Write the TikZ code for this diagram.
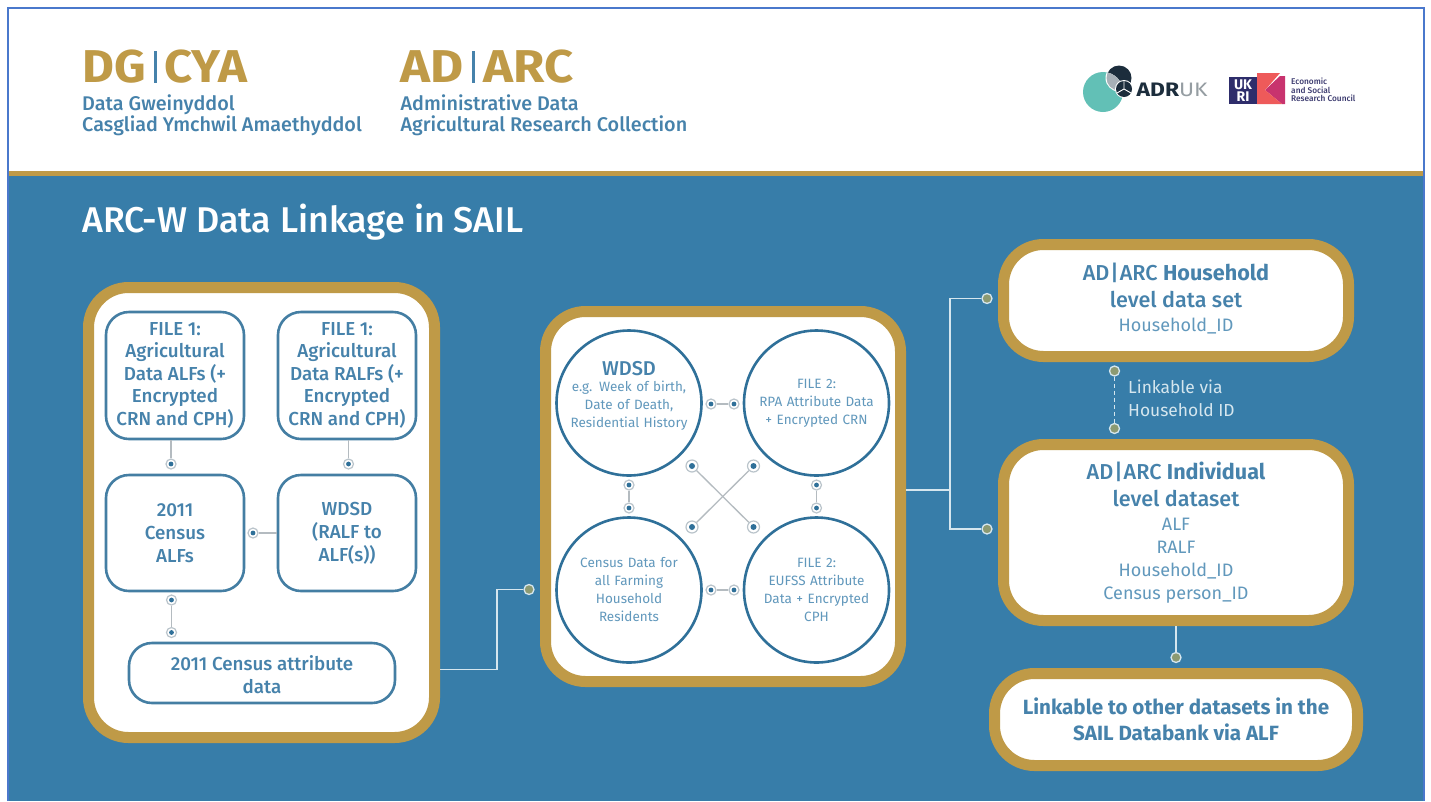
\documentclass[tikz,border=0pt]{standalone}
\usepackage{fontspec}
\setmainfont{Fira Sans}[BoldFont={Fira Sans Medium}]
\newfontfamily\heavy{Fira Sans Bold}
\definecolor{bgblue}{HTML}{377DA9}
\definecolor{gold}{HTML}{BF9A47}
\definecolor{frameblue}{HTML}{4A78CC}
\definecolor{txtblue}{HTML}{4682AB}
\definecolor{lightblue}{HTML}{6198BC}
\definecolor{ringgray}{HTML}{BAC4CB}
\definecolor{wireg}{HTML}{B4BBC0}
\definecolor{dotblue}{HTML}{2F7099}
\definecolor{olive}{HTML}{8C9A72}
\definecolor{palel}{HTML}{D5E6EE}
\definecolor{teal}{HTML}{62C0B6}
\definecolor{adrdark}{HTML}{1C2D3C}
\definecolor{ukriblue}{HTML}{2E2D6B}
\definecolor{ukrired}{HTML}{EE5A5A}
\definecolor{ukripink}{HTML}{C8336E}
\newcommand{\fs}[2]{\fontsize{#1}{#2}\selectfont}
\newcommand{\pipebar}{\textcolor{txtblue}{\rule[-0.01em]{2.5pt}{0.7em}}}
\newcommand{\idline}[1]{{\fs{18}{23}\mdseries\color{lightblue}#1}}
\tikzset{
  outerbox/.style={draw=gold,line width=11pt,fill=white,rounded corners=40pt,inner sep=0pt},
  innerbox/.style={draw=dotblue!90,line width=2.6pt,fill=white,rounded corners=23pt,inner sep=0pt,align=center,text=txtblue,font=\fs{18.8}{22.8}\bfseries},
  circbox/.style={circle,draw=dotblue,line width=2.6pt,fill=white,minimum size=145pt,inner sep=0pt,align=center,text=lightblue,font=\fs{13.5}{18},text width=125pt},
  circtxt/.style={inner sep=0pt,align=center,text=lightblue,font=\fs{13.5}{18},text width=125pt},
  dotw/.style={circle,draw=ringgray,line width=1.2pt,fill=white,minimum size=10pt,inner sep=0pt,path picture={\fill[dotblue] (path picture bounding box.center) circle (2.4pt);}},
  dotx/.style={dotw,minimum size=12pt,path picture={\fill[dotblue] (path picture bounding box.center) circle (3pt);}},
  dotb/.style={circle,draw=palel,line width=1.3pt,fill=olive,minimum size=10pt,inner sep=0pt},
  wire/.style={draw=wireg,line width=1.3pt},
  wirel/.style={draw=palel,line width=1.3pt},
  head/.style={anchor=west,inner sep=0pt,text=txtblue,font=\fs{19.8}{21}\bfseries,align=left},
  bigtxt/.style={anchor=west,inner sep=0pt,font=\fs{46}{46}\heavy},
  boxtxt/.style={inner sep=0pt,align=center,text=txtblue,font=\fs{21.6}{27}\bfseries},
}
\begin{document}
\begin{tikzpicture}[x=1pt,y=-1pt]
\useasboundingbox (0,0) rectangle (1431,801);
% background
\fill[white] (0,0) rectangle (1431,801);
\fill[bgblue] (8,175) rectangle (1424,801);
\fill[gold] (8,171) rectangle (1424,175.5);
\draw[frameblue,line width=1.8pt] (8,801) -- (8,8) -- (1424,8) -- (1424,801);
% header
\node[bigtxt] (dg) at (82,66.5) {\scalebox{1.065}[1]{\textcolor{gold}{DG}\,\pipebar\,\textcolor{gold}{CYA}}};
\node[bigtxt] (ad) at (400.5,66.5) {\scalebox{1.105}[1]{\textcolor{gold}{AD}\,\pipebar\,\textcolor{gold}{ARC}}};
\node[head] (dgt) at (82,115.5) {Data Gweinyddol\\Casgliad Ymchwil Amaethyddol};
\node[head] (adt) at (400.5,115.5) {Administrative Data\\Agricultural Research Collection};
\node[anchor=west,inner sep=0pt,text=white,font=\fs{35.8}{36}\bfseries] (title) at (82,222.5) {ARC-W Data Linkage in SAIL};
% ADR logo
\fill[teal] (1103,92) circle (20);
\fill[adrdark] (1119,78) circle (12.5);
\begin{scope}
  \clip (1103,92) circle (20);
  \fill[white] (1119,78) circle (13.5);
  \fill[ringgray!90!black] (1119,78) circle (12.5);
\end{scope}
\fill[white] (1124,89) circle (9);
\fill[adrdark] (1124,89) circle (8);
\draw[white,line width=0.9pt] (1124,89) -- (1124,81) (1124,89) -- (1117,93) (1124,89) -- (1131,93);
\node[anchor=west,inner sep=0pt,font=\fs{19.5}{20}] (adr) at (1136.5,89.5) {\scalebox{1.17}[1]{\textcolor{adrdark}{\heavy ADR}\textcolor{ringgray!80!black}{UK}}};
% UKRI logo
\fill[ukriblue] (1229,77) rectangle (1257,104);
\fill[ukripink] (1280,76) -- (1285,76) -- (1285,104) -- (1282,104) -- (1265,90) -- cycle;
\fill[ukrired] (1257,73) -- (1280,73) -- (1265,90) -- (1282,104) -- (1257,104) -- cycle;
\node[inner sep=0pt,text=white,font=\fs{14}{12.5}\heavy,align=center] (ukri) at (1243,90.5) {UK\\RI};
\node[anchor=west,inner sep=0pt,text=ukriblue!85!gray,font=\fs{8.3}{8.7}\bfseries,align=left] (esrc) at (1291,90) {Economic\\and Social\\Research Council};
% left panel
\node[outerbox,minimum width=346pt,minimum height=450pt] (left) at (261.5,512.5) {};
\node[innerbox,minimum width=138pt,minimum height=127pt] (fa) at (175,375.5) {\raisebox{-1pt}{FILE 1:}\\Agricultural\\Data ALFs (+\\Encrypted\\CRN and CPH)};
\node[innerbox,minimum width=138pt,minimum height=127pt] (fb) at (347,375.5) {\raisebox{-1pt}{FILE 1:}\\Agricultural\\Data RALFs (+\\Encrypted\\CRN and CPH)};
\node[innerbox,minimum width=138pt,minimum height=116pt] (cen) at (175,533) {2011\\Census\\ALFs};
\node[innerbox,minimum width=138pt,minimum height=116pt] (wd) at (347,533) {WDSD\\(RALF to\\ALF(s))};
\node[innerbox,minimum width=266pt,minimum height=60pt] (attr) at (262,673) {};
\node[inner sep=0pt,align=center,text=txtblue,font=\fs{18.8}{23}\bfseries] (attrt) at (262,674.5) {2011 Census attribute\\data};
\node[dotw] (d1) at (171,464) {};
\node[dotw] (d2) at (348.5,464) {};
\node[dotw] (d3) at (253,533) {};
\node[dotw] (d4) at (171.5,600) {};
\node[dotw] (d5) at (171.5,632.5) {};
\draw[wire] (fa.south -| d1) -- (d1);
\draw[wire] (fb.south -| d2) -- (d2);
\draw[wire] (d3) -- (wd.west);
\draw[wire] (d4) -- (d5);
% middle panel
\node[outerbox,minimum width=355pt,minimum height=370pt] (mid) at (723,496.5) {};
\node[circbox] (c1) at (629,403) {};
\node[circtxt] (c1t) at (629,396) {{\fs{20}{22}\bfseries\textcolor{txtblue}{WDSD}}\\[-2pt]e.g. Week of birth,\\Date of Death,\\Residential History};
\node[circbox] (c2) at (816.5,403) {FILE 2:\\RPA Attribute Data\\+ Encrypted CRN};
\node[circbox] (c3) at (629,590) {Census Data for\\all Farming\\Household\\Residents};
\node[circbox] (c4) at (816.5,590) {FILE 2:\\EUFSS Attribute\\Data + Encrypted\\CPH};
\node[dotw] (m1) at (711,404) {};
\node[dotw] (m2) at (734,404) {};
\node[dotw] (m3) at (711,590) {};
\node[dotw] (m4) at (734,590) {};
\node[dotw] (m5) at (629,485) {};
\node[dotw] (m6) at (629,508) {};
\node[dotw] (m7) at (816.5,485) {};
\node[dotw] (m8) at (816.5,508) {};
\node[dotx] (x1) at (692,466) {};
\node[dotx] (x2) at (753.5,466) {};
\node[dotx] (x3) at (692,527) {};
\node[dotx] (x4) at (753.5,527) {};
\draw[wire] (m1) -- (m2);
\draw[wire] (m3) -- (m4);
\draw[wire] (m5) -- (m6);
\draw[wire] (m7) -- (m8);
\draw[wire] (x1) -- (x4);
\draw[wire] (x2) -- (x3);
% right boxes
\node[outerbox,minimum width=345pt,minimum height=112pt] (hh) at (1176,300.5) {};
\node[boxtxt] (hht) at (1176,298.5) {AD\hspace{1pt}|\hspace{1pt}ARC {\mdseries\heavy Household}\\level data set\\[-3.5pt]\idline{Household\_ID}};
\node[outerbox,minimum width=345pt,minimum height=176pt] (ind) at (1176,532.5) {};
\node[boxtxt] (indt) at (1176,532.5) {AD\hspace{1pt}|\hspace{1pt}ARC {\mdseries\heavy Individual}\\level dataset\\[-3.5pt]\idline{ALF}\\[-4pt]\idline{RALF}\\[-4pt]\idline{Household\_ID}\\[-4pt]\idline{Census person\_ID}};
\node[outerbox,minimum width=363pt,minimum height=92pt,align=center,text=txtblue,font=\fs{20.6}{26}\heavy] (lk) at (1176,719.5) {Linkable to other datasets in the\\SAIL Databank via ALF};
\node[anchor=west,inner sep=0pt,align=left,text=palel,font=\fs{17.4}{23}] (lv) at (1128,398.5) {Linkable via\\Household ID};
\node[dotb] (r1) at (1114.5,371) {};
\node[dotb] (r2) at (1114.5,428.5) {};
\draw[wirel,dash pattern=on 4pt off 3pt] (r1) -- (r2);
\node[dotb] (r3) at (987,298.5) {};
\node[dotb] (r4) at (987,529) {};
\node[dotb] (r5) at (529,589.5) {};
\node[dotb] (r6) at (1176,657.5) {};
\draw[wirel] (ind.south -| r6) -- (r6);
\coordinate (elb) at (497,669.5);
\coordinate (hub) at (950,490);
\draw[wirel] (left.east |- elb) -- (elb) |- (r5.west);
\draw[wirel] (mid.east |- hub) -- (hub);
\draw[wirel] (r3.west) -| (hub) |- (r4.west);
\end{tikzpicture}
\end{document}
